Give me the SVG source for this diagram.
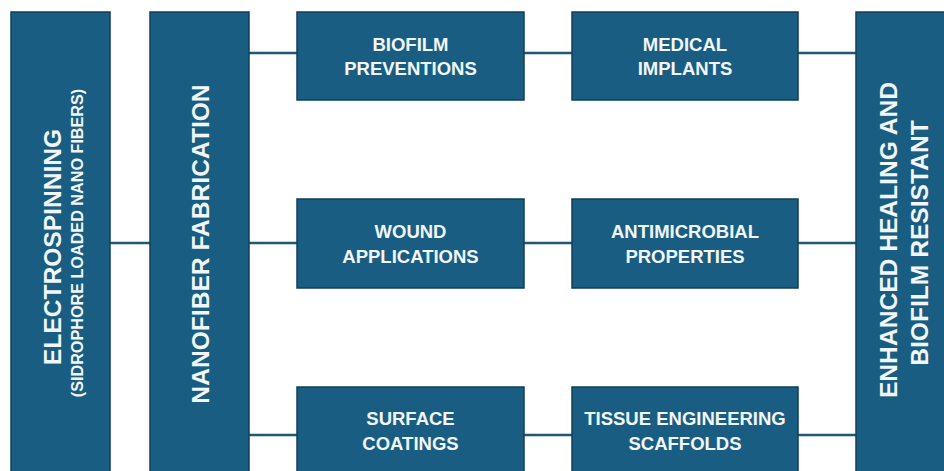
<svg xmlns="http://www.w3.org/2000/svg" width="944" height="471" viewBox="0 0 944 471">
  <style>
    .box { fill: #195e82; stroke: #123f58; stroke-width: 1.5; }
    .lbl { fill: #f2f6f7; font-family: "Liberation Sans", Arial, sans-serif; font-weight: bold; text-anchor: middle; }
    .sm { font-size: 18.5px; }
    .big { font-size: 24.6px; }
    .sub { font-size: 16.2px; }
    .conn { stroke: #1d5876; stroke-width: 2.5; fill: none; }
  </style>
  <rect x="0" y="0" width="944" height="471" fill="#ffffff"/>
  <g id="connectors">
    <line class="conn" x1="110" y1="243" x2="150" y2="243"/>
    <line class="conn" x1="249" y1="53" x2="297" y2="53"/>
    <line class="conn" x1="249" y1="243" x2="297" y2="243"/>
    <line class="conn" x1="249" y1="435" x2="297" y2="435"/>
    <line class="conn" x1="524" y1="53" x2="572" y2="53"/>
    <line class="conn" x1="524" y1="243" x2="572" y2="243"/>
    <line class="conn" x1="524" y1="435" x2="572" y2="435"/>
    <line class="conn" x1="798" y1="53" x2="856" y2="53"/>
    <line class="conn" x1="798" y1="243" x2="856" y2="243"/>
    <line class="conn" x1="798" y1="435" x2="856" y2="435"/>
  </g>
  <g id="electrospinning">
    <rect class="box" x="11" y="12" width="99" height="470"/>
    <text class="lbl big" transform="translate(61,247) rotate(-90)">ELECTROSPINNING</text>
    <text class="lbl sub" transform="translate(83,243) rotate(-90)">(SIDROPHORE LOADED NANO FIBERS)</text>
  </g>
  <g id="nanofiber">
    <rect class="box" x="150" y="12" width="99" height="470"/>
    <text class="lbl big" transform="translate(209,244) rotate(-90)">NANOFIBER FABRICATION</text>
  </g>
  <g id="biofilm">
    <rect class="box" x="297" y="12" width="227" height="88"/>
    <text class="lbl sm" x="410.5" y="51">BIOFILM</text>
    <text class="lbl sm" x="410.5" y="75">PREVENTIONS</text>
  </g>
  <g id="medical">
    <rect class="box" x="572" y="12" width="226" height="88"/>
    <text class="lbl sm" x="685" y="51">MEDICAL</text>
    <text class="lbl sm" x="685" y="75">IMPLANTS</text>
  </g>
  <g id="wound">
    <rect class="box" x="297" y="199" width="227" height="89"/>
    <text class="lbl sm" x="410.5" y="238">WOUND</text>
    <text class="lbl sm" x="410.5" y="263">APPLICATIONS</text>
  </g>
  <g id="antimicrobial">
    <rect class="box" x="572" y="199" width="226" height="89"/>
    <text class="lbl sm" x="685" y="238">ANTIMICROBIAL</text>
    <text class="lbl sm" x="685" y="263">PROPERTIES</text>
  </g>
  <g id="surface">
    <rect class="box" x="297" y="387" width="227" height="95"/>
    <text class="lbl sm" x="410.5" y="425">SURFACE</text>
    <text class="lbl sm" x="410.5" y="450">COATINGS</text>
  </g>
  <g id="tissue">
    <rect class="box" x="572" y="387" width="226" height="95"/>
    <text class="lbl sm" x="685" y="425">TISSUE ENGINEERING</text>
    <text class="lbl sm" x="685" y="450">SCAFFOLDS</text>
  </g>
  <g id="enhanced">
    <rect class="box" x="856" y="12" width="100" height="470"/>
    <text class="lbl big" transform="translate(897,240) rotate(-90)">ENHANCED HEALING AND</text>
    <text class="lbl big" transform="translate(928,243) rotate(-90)">BIOFILM RESISTANT</text>
  </g>
</svg>
